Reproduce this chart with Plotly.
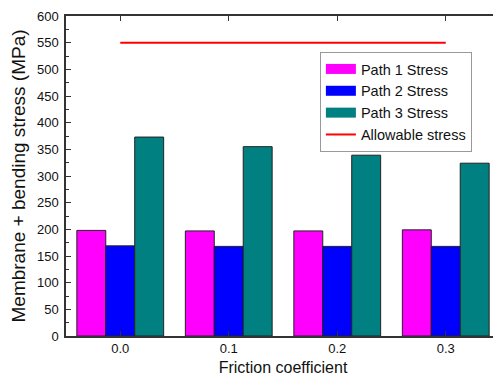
import plotly.graph_objects as go

friction = [0.0, 0.1, 0.2, 0.3]
path1 = [198, 197, 197, 199]
path2 = [169, 168, 168, 168]
path3 = [373, 355, 339, 324]
allowable_x = [0.0, 0.3]
allowable_y = [550, 550]
tick_labels = ["0.0", "0.1", "0.2", "0.3"]
series_names = ["Path 1 Stress", "Path 2 Stress", "Path 3 Stress"]
series_colors = ["#FF00FF", "#0000FF", "#008080"]

fig = go.Figure()
outline = dict(color="#222222", width=1)
for vals, name, col in zip([path1, path2, path3], series_names, series_colors):
    fig.add_trace(go.Bar(x=friction, y=vals, name=name, showlegend=False,
                         marker=dict(color=col, line=outline)))
# legend-only swatches (wide rectangles as in the reference)
for name, col in zip(series_names, series_colors):
    fig.add_trace(go.Scatter(x=[None], y=[None], mode="lines", name=name,
                             line=dict(color=col, width=12)))
fig.add_trace(go.Scatter(x=allowable_x, y=allowable_y, mode="lines",
                         name="Allowable stress",
                         line=dict(color="#FF0000", width=2)))

fig.update_layout(
    width=493, height=377,
    margin=dict(l=58, r=1, t=8, b=49),
    paper_bgcolor="white", plot_bgcolor="white",
    barmode="group", bargap=0.2, bargroupgap=0,
    font=dict(family="Liberation Sans, Arial, sans-serif", color="#111111"),
    showlegend=True,
    legend=dict(x=0.585, y=0.8875, xanchor="left", yanchor="top",
                bgcolor="white", bordercolor="#999999", borderwidth=1,
                font=dict(size=14.5), traceorder="normal",
                tracegroupgap=0),
)
fig.update_xaxes(
    range=[-0.05, 0.35], tickmode="array", tickvals=friction, ticktext=tick_labels,
    ticks="inside", ticklen=5, tickcolor="#333333",
    showline=True, linecolor="#333333", linewidth=1.5, mirror="ticks",
    showgrid=False, zeroline=False, automargin=False,
    tickfont=dict(size=13),
    title=dict(text="Friction coefficient", font=dict(size=16), standoff=6),
)
fig.update_yaxes(
    range=[0, 600], dtick=50, tick0=0,
    ticks="inside", ticklen=5, tickcolor="#333333",
    showline=True, linecolor="#333333", linewidth=1.5, mirror="ticks",
    showgrid=False, zeroline=False, automargin=False,
    tickfont=dict(size=13), ticklabelstandoff=3,
    minor=dict(dtick=25, ticks="inside", ticklen=3, tickcolor="#333333", showgrid=False),
    title=dict(text="Membrane + bending stress (MPa)", font=dict(size=19), standoff=8),
)
fig.write_html("out.html")
